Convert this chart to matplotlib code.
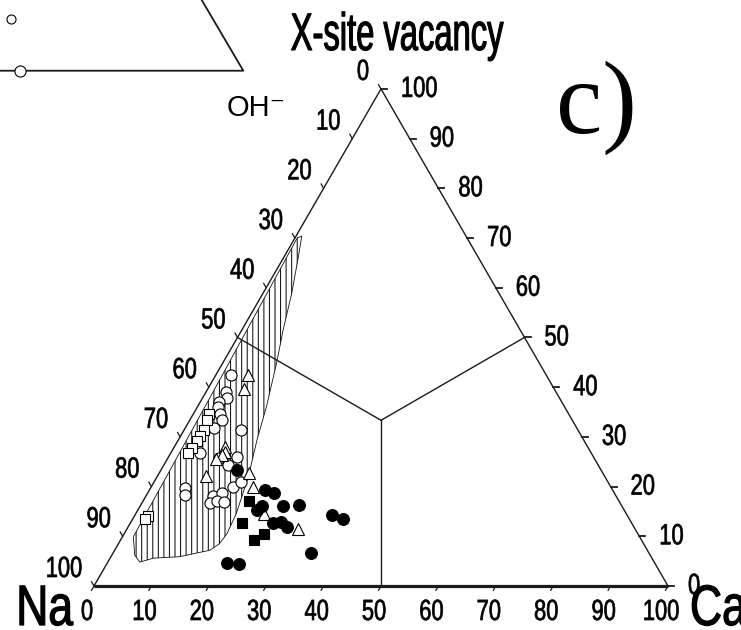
import numpy as np
import matplotlib
matplotlib.use('Agg')
import matplotlib.pyplot as plt
from matplotlib.patches import Polygon
from matplotlib.patheffects import AbstractPathEffect
from matplotlib.transforms import Affine2D

plt.rcParams['hatch.linewidth'] = 0.75

# ternary data: Ca % and X-site vacancy %, Na = 100 - Ca - vac
open_circ_ca = [2.7, 3.4, 4.2, 3.3, 3.6, 4.6, 5.6, 5.1, 9.9, 5.1, 11.9, 11.2, 9.0,
                6.0, 6.7, 11.6, 12.9, 11.9, 12.9, 14.3, 14.3, 15.1]
open_circ_vac = [42.4, 39.1, 37.8, 37.1, 36.1, 34.7, 33.4, 31.7, 31.4, 26.8, 25.9, 24.3, 25.7,
                 19.7, 18.3, 18.1, 18.7, 16.6, 17.0, 16.8, 20.0, 21.0]

open_sq_ca = [2.7, 3.0, 3.4, 3.4, 3.3, 3.2, 3.0, 2.4, 2.2]
open_sq_vac = [34.7, 33.4, 31.4, 30.2, 29.2, 27.7, 26.8, 14.1, 13.4]

open_tri_ca = [5.7, 6.4, 8.8, 9.3, 9.1, 8.4, 8.5, 15.7, 17.7, 22.4, 29.9]
open_tri_vac = [42.4, 39.6, 27.9, 27.0, 26.4, 25.6, 22.1, 22.7, 20.0, 14.5, 11.4]

fill_circ_ca = [13.2, 20.1, 21.9, 20.7, 21.2, 24.9, 27.6, 24.9, 26.2, 27.7, 34.3, 36.7, 34.5, 20.8, 23.0]
fill_circ_vac = [23.3, 19.3, 18.8, 15.3, 16.1, 16.1, 16.3, 12.6, 12.9, 11.8, 14.3, 13.4, 6.6, 4.7, 4.4]

fill_sq_ca = [18.5, 19.4, 24.3, 23.2]
fill_sq_vac = [17.1, 12.6, 10.5, 9.3]

# outline of the hatched field
field_ca = [0.4, 1.0, 2.5, 5.0, 7.2, 9.4, 12.0, 13.7, 15.9, 17.5, 17.9, 17.6, 16.6,
            12.0, 7.5, 5.6, 4.0, 1.9, 1.2]
field_vac = [70.0, 70.4, 66.2, 58.9, 51.5, 44.8, 36.1, 29.4, 22.0, 14.6, 10.5, 8.5, 7.2,
             5.9, 5.6, 4.8, 6.2, 9.9, 40.0]

ticks = list(range(0, 101, 10))

# bits of the neighbouring panel cut off in the top-left corner
prev_line_x = [18.76, 26.01, -16.4]
prev_line_y = [102.1, 89.77, 89.77]
prev_pts_x = [-12.89, -14.51]
prev_pts_y = [89.77, 98.78]

H = np.sqrt(3) / 2
PX = 1 / 5.74  # one pixel in data units

SANS = ['Liberation Sans Narrow', 'Liberation Sans', 'DejaVu Sans']


def tern(ca, vac):
    ca = np.asarray(ca, float)
    vac = np.asarray(vac, float)
    return ca + vac / 2, vac * H


class Squeeze(AbstractPathEffect):
    """squeeze glyphs horizontally around x0 (display px), like tight tracking"""
    def __init__(self, sx, x0, lw=0.0):
        super().__init__()
        self.sx = sx
        self.x0 = x0
        self.lw = lw

    def draw_path(self, renderer, gc, tpath, affine, rgbFace=None):
        t = affine + Affine2D().translate(-self.x0, 0).scale(self.sx, 1).translate(self.x0, 0)
        gc0 = renderer.new_gc()
        gc0.copy_properties(gc)
        if self.lw and rgbFace is not None:
            gc0.set_linewidth(self.lw)
            gc0.set_foreground(rgbFace)
            gc0.set_joinstyle('round')
        renderer.draw_path(gc0, tpath, t, rgbFace)
        gc0.restore()


def stext(x, y, s, sx, lw=0.5, **kw):
    t = ax.text(x, y, s, **kw)
    x0 = ax.transData.transform((x, y))[0]
    t.set_path_effects([Squeeze(sx, x0, lw)])
    return t


fig = plt.figure(figsize=(7.41, 6.3), dpi=100)
ax = fig.add_axes([0, 0, 1, 1])
ax.set_xlim(-94 * PX, (741 - 94) * PX)
ax.set_ylim(-44 * PX, 586 * PX)
ax.axis('off')

# triangle frame
ax.plot([0, 50, 100], [0, 100 * H, 0], color='#1a1a1a', lw=1.0)
ax.plot([0, 100], [0, 0], color='#1a1a1a', lw=2.3, solid_capstyle='butt')

# field boundaries from the centre
cx, cy = tern(100 / 3, 100 / 3)
for ca, vac in [(0, 50), (50, 50), (50, 0)]:
    px, py = tern(ca, vac)
    ax.plot([cx, px], [cy, py], color='#1a1a1a', lw=1.0)

# hatched field
fx, fy = tern(field_ca, field_vac)
ax.add_patch(Polygon(np.column_stack([fx, fy]), closed=True, facecolor='none',
                     edgecolor='#111111', lw=0.6, hatch='|||'))

# ticks and labels
for k in ticks:
    # left edge: Na
    x, y = tern(0, 100 - k)
    ax.plot([x, x - 5 * PX * 0.5], [y, y + 5 * PX * H], color='#1a1a1a', lw=0.9)
    stext(x - 12 * PX, y + 9 * PX, str(k), 0.75, ha='right', va='baseline',
          fontsize=21, family=SANS)
    # right edge: vacancy
    x, y = tern(100 - k, k)
    ax.plot([x, x + 6 * PX], [y, y], color='#1a1a1a', lw=1.3)
    stext(x + 20 * PX, y - 8 * PX, str(k), 0.75, ha='left', va='baseline',
          fontsize=21, family=SANS)
    # base: Ca
    x, y = tern(k, 0)
    ax.plot([x, x - 5 * PX * 0.5], [y, y - 5 * PX * H], color='#1a1a1a', lw=0.9)
    stext(x - 7 * PX, -34 * PX, str(k), 0.75, ha='center', va='baseline',
          fontsize=21, family=SANS)

# symbols
ms = dict(linestyle='none', markeredgecolor='black', markeredgewidth=0.8)
x, y = tern(open_circ_ca, open_circ_vac)
ax.plot(x, y, marker='o', markersize=8, markerfacecolor='white', **ms)
x, y = tern(open_sq_ca, open_sq_vac)
ax.plot(x, y, marker='s', markersize=7, markerfacecolor='white', **ms)
x, y = tern(open_tri_ca, open_tri_vac)
ax.plot(x, y, marker='^', markersize=8.5, markerfacecolor='white', **ms)
x, y = tern(fill_circ_ca, fill_circ_vac)
ax.plot(x, y, marker='o', markersize=8.5, markerfacecolor='black', **ms)
x, y = tern(fill_sq_ca, fill_sq_vac)
ax.plot(x, y, marker='s', markersize=7, markerfacecolor='black', **ms)

# leftover of the previous panel
ax.plot(prev_line_x, prev_line_y, color='#1a1a1a', lw=1.3)
ax.plot(prev_pts_x[:1], prev_pts_y[:1], marker='o', markersize=8, markerfacecolor='white', **ms)
ax.plot(prev_pts_x[1:], prev_pts_y[1:], marker='o', markersize=6.5, markerfacecolor='white', **ms)

# titles and corner labels
stext((397 - 94) * PX, (586 - 50) * PX, 'X-site vacancy', 0.62, lw=0.8, ha='center',
      va='baseline', fontsize=38, family=SANS)
stext((73 - 94) * PX, (586 - 625) * PX, 'Na', 0.78, lw=0.9, ha='right', va='baseline',
      fontsize=41, family=SANS)
stext((690 - 94) * PX, (586 - 625) * PX, 'Ca', 0.78, lw=0.9, ha='left', va='baseline',
      fontsize=41, family=SANS)
ax.text((227 - 94) * PX, (586 - 116) * PX, 'OH\u207b', ha='left', va='baseline',
        fontsize=21, family=['Liberation Sans', 'DejaVu Sans'])
ax.text((596 - 94) * PX, (586 - 133) * PX, 'c)', ha='center', va='baseline',
        fontsize=75, family=['Liberation Serif', 'DejaVu Serif'])

fig.savefig('out.png', dpi=100)
